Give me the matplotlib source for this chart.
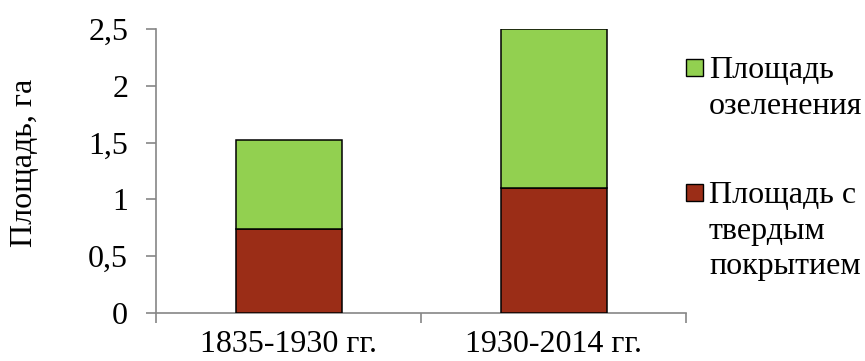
import matplotlib

matplotlib.use("Agg")
import matplotlib.pyplot as plt
from matplotlib.patches import Rectangle

# площади по периодам, га
periods = ["1835-1930 гг.", "1930-2014 гг."]
paved = [0.74, 1.10]      # площадь с твердым покрытием
green = [0.78, 1.40]      # площадь озеленения
yticks = [0, 0.5, 1, 1.5, 2, 2.5]
ytick_labels = ["0", "0,5", "1", "1,5", "2", "2,5"]

GREEN = "#92D050"
RED = "#9B2D17"
AXIS = "#868686"
FS = 23

plt.rcParams["font.family"] = ["Liberation Serif", "DejaVu Serif"]

fig = plt.figure(figsize=(8.65, 3.61), dpi=100)
ax = fig.add_axes([156 / 865, 1 - 313 / 361, 530 / 865, 284 / 361])

x = list(range(len(periods)))
ax.bar(x, paved, width=0.4, color=RED, edgecolor="black", linewidth=1.1, zorder=3)
ax.bar(x, green, width=0.4, bottom=paved, color=GREEN, edgecolor="black",
       linewidth=1.1, zorder=3)

ax.set_xlim(-0.5, 1.5)
ax.set_ylim(0, 2.5)
ax.set_yticks(yticks)
ax.set_yticklabels(ytick_labels)

# категории подписаны между делениями, деления — на границах
ax.set_xticks([-0.5, 0.5, 1.5])
ax.set_xticklabels([])
ax.set_xticks(x, minor=True)
ax.set_xticklabels(periods, minor=True)
ax.tick_params(axis="x", which="minor", length=0, pad=12, labelsize=FS)
ax.tick_params(axis="x", which="major", length=7, width=1.2, color=AXIS, direction="out")
ax.tick_params(axis="y", length=7, width=1.2, color=AXIS, direction="out",
               pad=13, labelsize=FS)

for side in ("top", "right"):
    ax.spines[side].set_visible(False)
for side in ("left", "bottom"):
    ax.spines[side].set_color(AXIS)
    ax.spines[side].set_linewidth(1.2)

fig.text(25 / 865, 1 - 163 / 361, "Площадь, га", rotation=90, ha="center",
         va="center", fontsize=FS)

# легенда справа: квадрат у первой строки подписи
legend_items = [(GREEN, "Площадь\nозеленения", 59), (RED, "Площадь с\nтвердым\nпокрытием", 184)]
for color, label, top in legend_items:
    fig.patches.append(Rectangle((686 / 865, 1 - (top + 17) / 361), 17 / 865, 17 / 361,
                                 transform=fig.transFigure, facecolor=color,
                                 edgecolor="black", linewidth=1.0))
    fig.text(709 / 865, 1 - (top - 3) / 361, label, ha="left", va="top",
             fontsize=FS, linespacing=1.3)

fig.savefig("out.png", dpi=100, facecolor="white")
